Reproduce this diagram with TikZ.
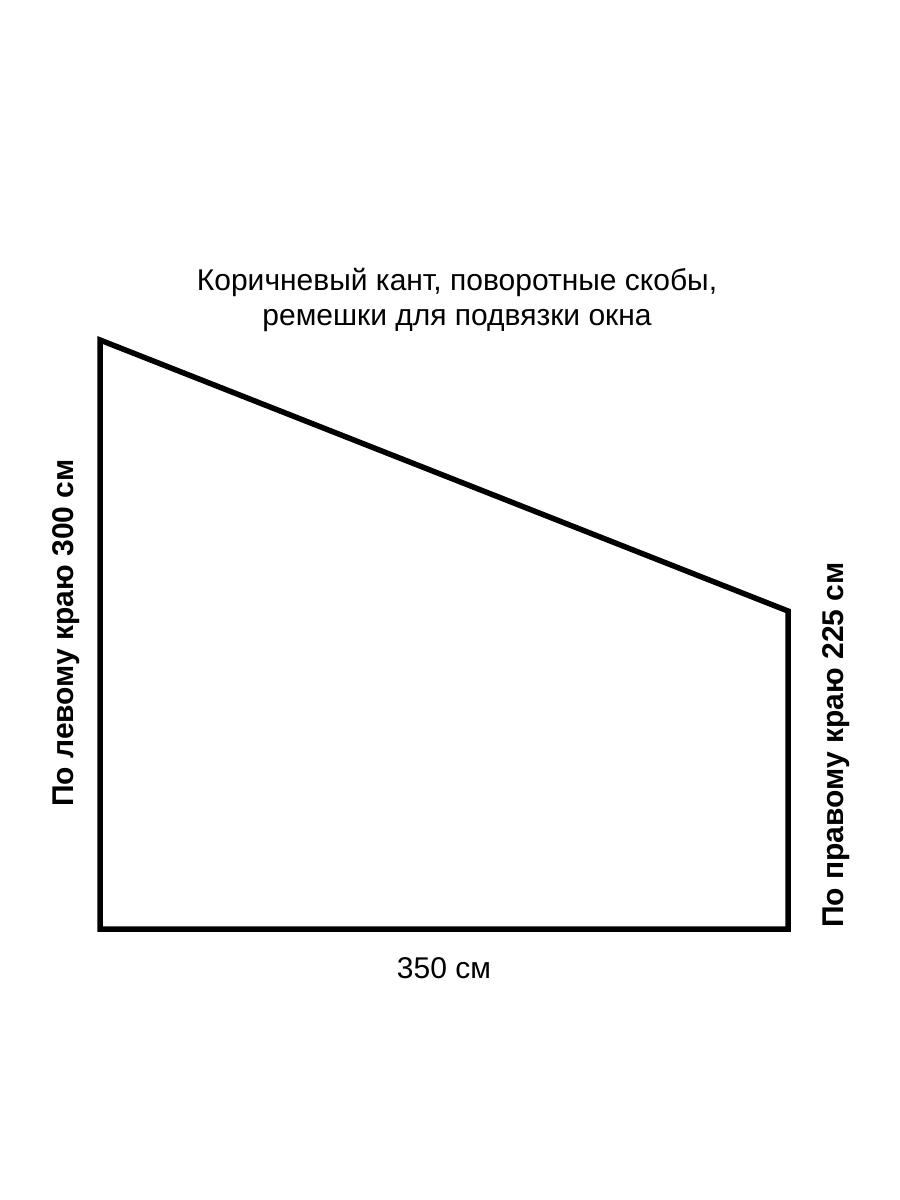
\documentclass[tikz,border=0pt]{standalone}
\usepackage{fontspec}
\setmainfont{Liberation Sans}
\begin{document}
\begin{tikzpicture}[x=1pt,y=-1pt,
  edge/.style={line width=5.5pt,line join=miter},
  lbl/.style={inner sep=0pt,font=\fontsize{30}{35}\selectfont},
  side/.style={inner sep=0pt,font=\fontsize{30}{35}\selectfont\bfseries}]
\useasboundingbox (0,0) rectangle (900,1200);
\fill[white] (0,0) rectangle (900,1200);
\coordinate (tl) at (100,340);
\coordinate (bl) at (100,929);
\coordinate (br) at (788,929);
\coordinate (tr) at (788,611);
\draw[edge] (tl) -- (bl) -- (br) -- (tr) -- cycle;
\node[lbl,align=center] (title) at (457,300) {Коричневый кант, поворотные скобы,\\ремешки для подвязки окна};
\node[side,rotate=90] (left) at (66,633) {По левому краю 300 см};
\node[side,rotate=90] (right) at (836,745) {По правому краю 225 см};
\node[lbl] (bottom) at (444,968) {350 см};
\end{tikzpicture}
\end{document}
